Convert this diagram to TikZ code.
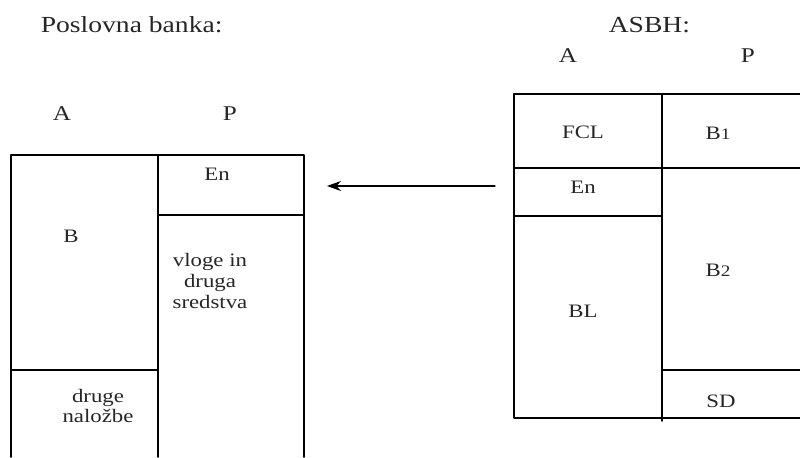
\documentclass[tikz,border=0pt]{standalone}
\usepackage{fontspec}
\setmainfont[FakeStretch=1.2]{Liberation Serif}
\usetikzlibrary{arrows.meta}

\begin{document}
\begin{tikzpicture}[x=0.5pt, y=-0.5pt, line cap=round, line join=round, line width=0.8pt]
	\useasboundingbox (0,0) rectangle (800,457);
	\tikzset{head/.style={inner sep=0pt, text=black!85, font=\fontsize{11.5}{13}\selectfont},
		side/.style={inner sep=0pt, text=black!85, font=\fontsize{10.5}{12}\selectfont},
		cell/.style={inner sep=0pt, align=center, text=black!85, font=\fontsize{9.5}{10.3}\selectfont}}
	
	% ---- naslova ----
	\node[head, anchor=base west] (pb) at (40,32) {Poslovna banka:};
	\node[head, anchor=base west] (asbh) at (608,32) {ASBH:};
	\node[side, anchor=base] (aR) at (568,62) {A};
	\node[side, anchor=base] (pR) at (748,62) {P};
	\node[side, anchor=base] (aL) at (62,120) {A};
	\node[side, anchor=base] (pL) at (230,120) {P};
	
	% ---- bilanca poslovne banke ----
	\draw (11,457) -- (11,155) -- (304,155) -- (304,457);
	\draw (158,155) -- (158,457);
	\draw (158,215) -- (304,215);
	\draw (11,370) -- (158,370);
	\node[cell] (enL) at (217,174) {En};
	\node[cell] (bL) at (71,236) {B};
	\node[cell] (vloge) at (210,281) {vloge in\\druga\\sredstva};
	\node[cell] (nalozbe) at (98,406) {druge\\naložbe};
	
	% ---- bilanca ASBH ----
	\draw (800,94) -- (514,94) -- (514,418) -- (800,418);
	\draw (662,94) -- (662,421);
	\draw (514,168) -- (800,168);
	\draw (514,216) -- (662,216);
	\draw (662,370) -- (800,370);
	\node[cell] (fcl) at (583,132) {FCL};
	\node[cell] (b1) at (718,133) {B{\fontsize{8}{8}\selectfont 1}};
	\node[cell] (enR) at (583,187) {En};
	\node[cell] (bl) at (583,311) {BL};
	\node[cell] (b2) at (718,270) {B{\fontsize{8}{8}\selectfont 2}};
	\node[cell] (sd) at (721,401) {SD};
	
	% ---- puscica ----
	\coordinate (from) at (495,186);
	\coordinate (to) at (327,186);
	\draw[line width=0.6pt, -{Stealth[length=7pt, width=5pt]}] (from) -- (to);
\end{tikzpicture}
\end{document}
